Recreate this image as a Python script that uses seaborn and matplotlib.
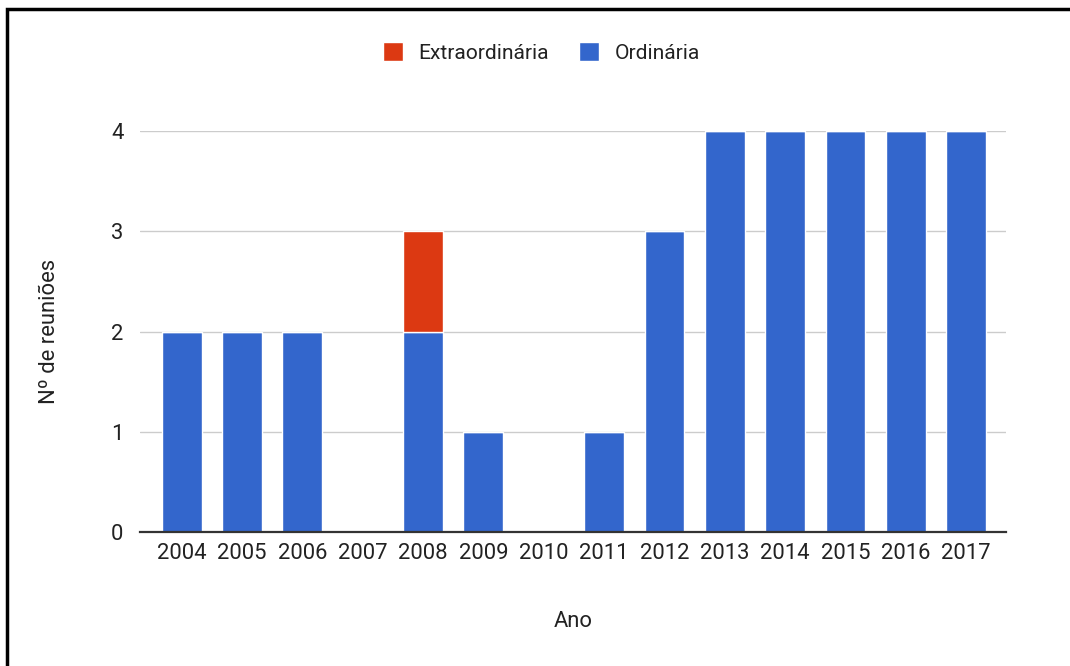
import numpy as np
import pandas as pd
import seaborn as sns
import matplotlib.pyplot as plt
from matplotlib.patches import Patch, Rectangle

# dados: reuniões por ano
anos = ['2004', '2005', '2006', '2007', '2008', '2009', '2010',
        '2011', '2012', '2013', '2014', '2015', '2016', '2017']
ordinaria = [2, 2, 2, 0, 2, 1, 0, 1, 3, 4, 4, 4, 4, 4]
extraordinaria = [0, 0, 0, 0, 1, 0, 0, 0, 0, 0, 0, 0, 0, 0]

azul = '#3366cc'
vermelho = '#dc3912'

sns.set_theme(style='white')
plt.rcParams['font.family'] = ['Roboto', 'DejaVu Sans']

df = pd.DataFrame({'Ano': anos, 'Ordinária': ordinaria, 'Extraordinária': extraordinaria})

fs = 15.8
cor_txt = '#222222'

fig = plt.figure(figsize=(10.7, 6.66), dpi=100)
ax = fig.add_axes([0.1308, 0.2012, 0.8094, 0.6021])

sns.barplot(data=df, x='Ano', y='Ordinária', order=anos, color=azul,
            saturation=1, width=0.66, ax=ax, zorder=3)
sns.barplot(data=df, x='Ano', y='Extraordinária', order=anos, color=vermelho,
            saturation=1, width=0.66, bottom=df['Ordinária'], ax=ax, zorder=3)

ax.set_xlim(-0.69, 13.66)
ax.set_ylim(0, 4)
ax.set_yticks([0, 1, 2, 3, 4])
ax.yaxis.grid(True, color='#cccccc', lw=1, zorder=0)
ax.set_axisbelow(True)
for s in ['top', 'right', 'left']:
    ax.spines[s].set_visible(False)
ax.spines['bottom'].set_color('#333333')
ax.spines['bottom'].set_linewidth(1.6)
ax.spines['bottom'].set_zorder(4)
ax.tick_params(axis='both', length=0, labelsize=fs, labelcolor=cor_txt)
ax.tick_params(axis='x', pad=8)
ax.tick_params(axis='y', pad=12)

ax.set_xlabel('Ano', fontsize=fs, color=cor_txt, labelpad=34)
ax.set_ylabel('Nº de reuniões', fontsize=fs, color=cor_txt, labelpad=37)

handles = [Patch(facecolor=vermelho, label='Extraordinária'),
           Patch(facecolor=azul, label='Ordinária')]
fig.legend(handles=handles, loc='center', bbox_to_anchor=(0.506, 0.921), ncol=2,
           frameon=False, fontsize=15.1, handlelength=0.95, handleheight=0.95,
           handletextpad=0.75, columnspacing=1.45, labelcolor=cor_txt)

# moldura preta (esquerda e topo)
fig.patches.append(Rectangle((7 / 1070, -0.1), 1.2, (666 - 9) / 666 + 0.1,
                             transform=fig.transFigure, fill=False,
                             edgecolor='black', lw=2.5))

fig.savefig('out.png', dpi=100)
